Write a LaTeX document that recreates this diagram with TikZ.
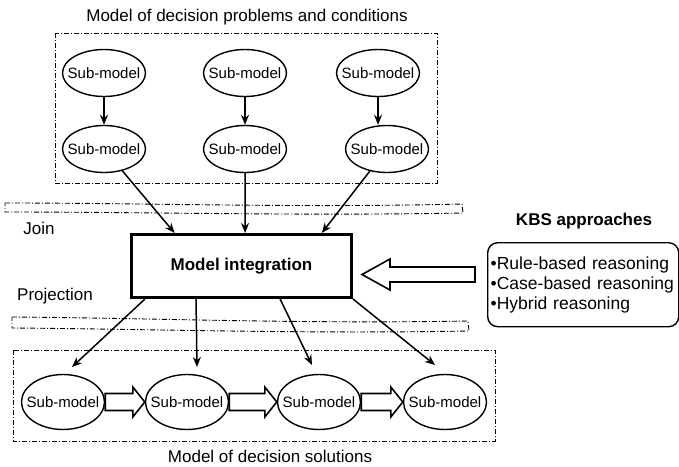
\documentclass[tikz,border=0pt]{standalone}
\usepackage{fontspec}
\setmainfont{Liberation Sans}
\usetikzlibrary{positioning,calc,shapes.geometric,arrows.meta}

\tikzset{
    submodel/.style={
        ellipse,
        draw,
        line width=1.4pt,
        minimum width=83pt,
        minimum height=47pt,
        inner xsep=-8pt,
        inner ysep=0pt,
        font=\fontsize{15}{16}\selectfont
    },
    solmodel/.style={
        submodel,
        minimum height=55pt
    },
    groupbox/.style={
        draw,
        line width=1pt,
        dash pattern=on 5pt off 2pt on 1pt off 2pt
    },
    band/.style={
        draw,
        line width=0.9pt,
        dash pattern=on 5pt off 2pt on 1pt off 2pt
    },
    intbox/.style={
        draw,
        line width=3pt,
        minimum width=220pt,
        minimum height=63pt,
        font=\fontsize{17}{20}\selectfont\bfseries
    },
    kbsbox/.style={
        draw,
        line width=1.4pt,
        rounded corners=10pt,
        text width=185pt,
        inner xsep=3pt,
        minimum height=84pt,
        align=left,
        font=\fontsize{17.5}{20}\selectfont
    },
    lbl/.style={font=\fontsize{17}{20}\selectfont},
    ptr/.style={
        ->,
        >={Stealth[length=10pt, width=8pt]},
        line width=1.5pt
    },
    hollow/.style={
        draw,
        fill=white,
        line width=1.6pt,
        line join=miter
    }
}

% from, to, shaft half width, head half width, head length
\newcommand{\hollowarrow}[5]{%
    \draw[hollow] let \p1=(#1), \p2=(#2), \n1={\x2-(#5)} in
        (\x1,{\y1-#3}) -- (\n1,{\y1-#3}) -- (\n1,{\y1-#4}) -- (\x2,\y1)
        -- (\n1,{\y1+#4}) -- (\n1,{\y1+#3}) -- (\x1,{\y1+#3}) -- cycle;}

\begin{document}
\begin{tikzpicture}[x=1pt, y=-1pt]
    \useasboundingbox (0,0) rectangle (679,466);

    % decision problems and conditions
    \node[lbl] (toplbl) at (247,17) {Model of decision problems and conditions};
    \draw[groupbox] (55,33) rectangle (437,183);
    \node[submodel] (m1) at (104,73) {Sub-model};
    \node[submodel] (m2) at (245,73) {Sub-model};
    \node[submodel] (m3) at (378,73) {Sub-model};
    \node[submodel] (m4) at (104,149) {Sub-model};
    \node[submodel] (m5) at (245,149) {Sub-model};
    \node[submodel] (m6) at (387,149) {Sub-model};

    \draw[ptr] (m1) -- (m4);
    \draw[ptr] (m2) -- (m5);
    \draw[ptr] (m3.south) -- (m3.south |- m6.north);

    % join
    \draw[band] (5,203) .. controls (150,203) and (300,208) .. (462,204)
        -- (463,213) .. controls (300,216) and (150,212) .. (5,212) -- cycle;
    \node[lbl] (join) at (39,228) {Join};

    \node[intbox] (integ) at (241.5,266) {Model integration};

    \coordinate (j1) at ($(integ.north west)!0.2!(integ.north east)$);
    \coordinate (j2) at ($(integ.north west)!0.516!(integ.north east)$);
    \coordinate (j3) at ($(integ.north west)!0.86!(integ.north east)$);
    \draw[ptr] (m4) -- (j1);
    \draw[ptr] (m5) -- (j2);
    \draw[ptr] (m6) -- (j3);

    % KBS
    \node[font=\fontsize{17}{20}\selectfont\bfseries] (kbslbl) at (584,221) {KBS approaches};
    \node[kbsbox, anchor=north west] (kbs) at (487,242)
        {\textbullet Rule-based reasoning\\\textbullet Case-based reasoning\\\textbullet Hybrid reasoning};
    \coordinate (ktail) at (475,274.5);
    \coordinate (khead) at (362,274.5);
    \hollowarrow{ktail}{khead}{7.5}{15.5}{-28}

    % projection
    \node[lbl] (proj) at (55,296) {Projection};
    \draw[band] (12,317) .. controls (150,318) and (300,324) .. (468,321)
        -- (469,331) .. controls (300,334) and (150,329) .. (12,328) -- cycle;

    % decision solutions
    \draw[groupbox] (13,350) rectangle (495,441);
    \node[solmodel] (s1) at (63,402) {Sub-model};
    \node[solmodel] (s2) at (187,402) {Sub-model};
    \node[solmodel] (s3) at (319,402) {Sub-model};
    \node[solmodel] (s4) at (445,402) {Sub-model};
    \node[lbl] (botlbl) at (270,456) {Model of decision solutions};

    \coordinate (t1) at (72,367);
    \coordinate (t2) at (197,367);
    \coordinate (t3) at (312,365);
    \coordinate (t4) at (435,365);
    \draw[ptr] ($(integ.south west)!0.067!(integ.south east)$) -- (t1);
    \draw[ptr] ($(integ.south west)!0.296!(integ.south east)$) -- (t2);
    \draw[ptr] ($(integ.south west)!0.673!(integ.south east)$) -- (t3);
    \draw[ptr] (integ.south east) -- (t4);

    \hollowarrow{s1.east}{s2.west}{8.5}{15}{12}
    \hollowarrow{s2.east}{s3.west}{8.5}{15}{12}
    \hollowarrow{s3.east}{s4.west}{8.5}{15}{12}
\end{tikzpicture}
\end{document}
